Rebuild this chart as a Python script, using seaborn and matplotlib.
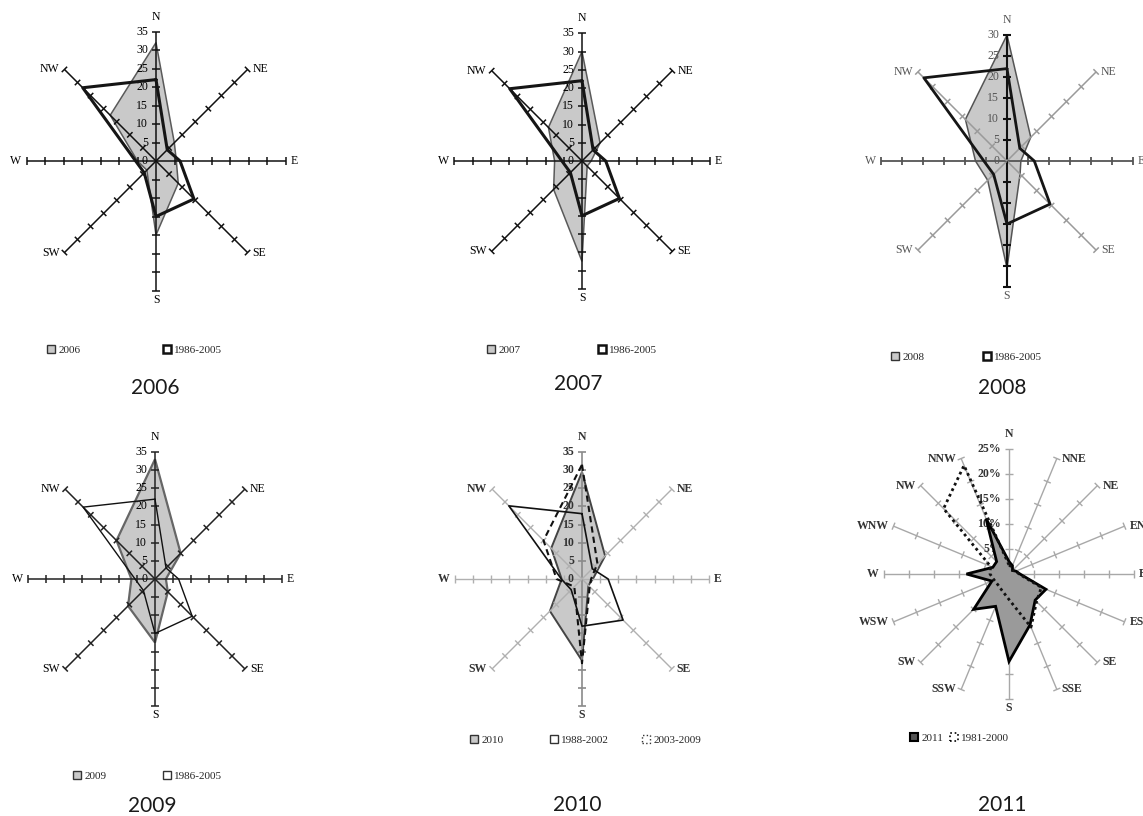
import numpy as np
import matplotlib.pyplot as plt
import seaborn as sns
from matplotlib.patches import Patch
from matplotlib.collections import LineCollection

# wind directions
dirs8 = ['N', 'NE', 'E', 'SE', 'S', 'SW', 'W', 'NW']
dirs16 = ['N', 'NNE', 'NE', 'ENE', 'E', 'ESE', 'SE', 'SSE',
          'S', 'SSW', 'SW', 'WSW', 'W', 'WNW', 'NW', 'NNW']

freq_2006 = [32, 7, 5.5, 8.5, 20, 3.5, 5, 17.5]
freq_2007 = [30, 7, 2.5, 2, 27.5, 11, 7.5, 13]
freq_2008 = [30, 8, 3.3, 4.4, 25.5, 6.5, 7.5, 14]
freq_2009 = [33, 10, 3, 5, 17.5, 10.5, 6.5, 15]
freq_2010 = [29.5, 9, 3, 2.5, 22.5, 12.5, 5.6, 12]
freq_1986_2005 = [22, 4.3, 6.5, 14.5, 15, 4.5, 5.5, 28]
freq_1988_2002 = [18, 4, 7.2, 16, 13, 4.2, 5.7, 28.5]
freq_2003_2009 = [31.5, 6, 2.5, 3, 23.2, 3, 7, 15]
freq_2011 = [2.5, 1.8, 1, 1.5, 2.2, 8, 7.4, 11, 17.5, 7, 10, 3.7, 8.5, 3.5, 3.5, 12]
freq_1981_2000 = [1.8, 1.5, 1, 1.5, 2, 7, 7.8, 11.5, 5.1, 3.6, 3.1, 3.2, 3.8, 4, 18.5, 23.5]

captions = ['2006', '2007', '2008', '2009', '2010', '2011']

sns.set_theme(style="white")
plt.rcParams['font.family'] = ['Liberation Serif', 'DejaVu Serif']

W, H = 1143, 816
fig = plt.figure(figsize=(W / 100, H / 100), dpi=100)


def compass(n):
    th = np.deg2rad(np.arange(n) * 360.0 / n)
    return np.sin(th), np.cos(th)


def panel_axes(cx, cy, scale, half=178):
    ax = fig.add_axes([(cx - half) / W, 1 - (cy + half) / H, 2 * half / W, 2 * half / H])
    ax.set_axis_off()
    ax.lim = half / scale
    return ax


def draw_rose(ax, dirs, rmax, step, scale, spoke_style, label_color='black',
              weight='normal', fmt='{:d}', tick_size=8.5, lab_size=8.5):
    n = len(dirs)
    ux, uy = compass(n)
    ticks = np.arange(step, rmax + step / 2, step)
    h = 3.8 / scale
    for i, d in enumerate(dirs):
        col, lw = spoke_style(i)
        ax.plot([0, rmax * ux[i]], [0, rmax * uy[i]], color=col, lw=lw, zorder=2,
                solid_capstyle='butt')
        segs = [[(t * ux[i] - h * uy[i], t * uy[i] + h * ux[i]),
                 (t * ux[i] + h * uy[i], t * uy[i] - h * ux[i])] for t in ticks]
        ax.add_collection(LineCollection(segs, colors=col, lw=lw, zorder=2))
        if abs(ux[i]) < 0.1:
            if uy[i] > 0:
                ax.text(0, rmax + 9 / scale, d, ha='center', va='bottom', fontsize=lab_size,
                        color=label_color, fontweight=weight)
            else:
                ax.text(0, -rmax - 3 / scale, d, ha='center', va='top', fontsize=lab_size,
                        color=label_color, fontweight=weight)
        else:
            ax.text(rmax * ux[i] + 5 / scale * np.sign(ux[i]), rmax * uy[i], d,
                    ha='left' if ux[i] > 0 else 'right', va='center', fontsize=lab_size,
                    color=label_color, fontweight=weight)
    for t in np.r_[0, ticks]:
        ax.text(-8 / scale, t, fmt.format(int(t)), ha='right', va='center',
                fontsize=tick_size, color=label_color, fontweight=weight)


def closed(vals):
    ux, uy = compass(len(vals))
    v = np.asarray(vals, float)
    return np.r_[v * ux, v[0] * ux[0]], np.r_[v * uy, v[0] * uy[0]]


def area(ax, vals, fc, ec, lw, zorder=1):
    x, y = closed(vals)
    ax.fill(x, y, facecolor=fc, edgecolor=ec, lw=lw, zorder=zorder)


def line(ax, vals, color, lw, ls='-', zorder=4):
    x, y = closed(vals)
    sns.lineplot(x=x, y=y, sort=False, estimator=None, ax=ax, color=color,
                 lw=lw, linestyle=ls, zorder=zorder)


def finish(ax):
    ax.set_xlim(-ax.lim, ax.lim)
    ax.set_ylim(-ax.lim, ax.lim)
    ax.set_aspect('equal')
    ax.set_axis_off()


def key(x, y, label, fc, ec, lw=1.0, ls='-'):
    fig.legend(handles=[Patch(facecolor=fc, edgecolor=ec, lw=lw, linestyle=ls)],
               labels=[label], loc='center left', bbox_to_anchor=(x / W, 1 - y / H),
               frameon=False, fontsize=8, handlelength=0.7, handleheight=0.7,
               handletextpad=0.3, borderpad=0, borderaxespad=0)


def caption(x, y, text):
    fig.text(x / W, 1 - y / H, text, ha='center', va='center', fontsize=15,
             family=['Lato', 'DejaVu Sans'], color='#1a1a1a')


black_spokes = lambda i: ('#111', 1.1)
GRAY = '#c9c9c9'

# 2006
ax = panel_axes(156, 161, 3.70)
area(ax, freq_2006, GRAY, '#5a5a5a', 1.1)
draw_rose(ax, dirs8, 35, 5, 3.70, black_spokes)
line(ax, freq_1986_2005, '#151515', 2.2)
finish(ax)

# 2007
ax = panel_axes(582, 161, 3.65)
area(ax, freq_2007, GRAY, '#5a5a5a', 1.1)
draw_rose(ax, dirs8, 35, 5, 3.65, black_spokes)
line(ax, freq_1986_2005, '#151515', 2.2)
finish(ax)

# 2008
ax = panel_axes(1007, 161, 4.20)
area(ax, freq_2008, GRAY, '#555', 1.1)
draw_rose(ax, dirs8, 30, 5, 4.20,
          lambda i: ('#111', 1.5) if i in (0, 4) else (('#555', 1.3) if i in (2, 6) else ('#9a9a9a', 1.1)),
          label_color='#555')
line(ax, freq_1986_2005, '#151515', 2.0)
finish(ax)

# 2009
ax = panel_axes(155, 579, 3.63)
area(ax, freq_2009, GRAY, '#666', 1.6)
draw_rose(ax, dirs8, 35, 5, 3.63, lambda i: ('#222', 1.1))
line(ax, freq_1986_2005, '#111', 1.0)
finish(ax)

# 2010
ax = panel_axes(582, 579, 3.63)
area(ax, freq_2010, GRAY, '#444', 1.4)
draw_rose(ax, dirs8, 35, 5, 3.63,
          lambda i: ('#8a8a8a', 1.2) if i in (0, 4) else ('#b0b0b0', 1.0),
          label_color='#333', weight='bold')
line(ax, freq_1988_2002, '#111', 1.2)
line(ax, freq_2003_2009, '#111', 1.5, ls=(0, (3, 2)))
finish(ax)

# 2011
ax = panel_axes(1009, 574, 5.0)
draw_rose(ax, dirs16, 25, 5, 5.0, lambda i: ('#a8a8a8', 1.0),
          label_color='#333', weight='bold', fmt='{:d}%', tick_size=8.5)
area(ax, freq_2011, '#9a9a9a', '#000', 2.0, zorder=3)
line(ax, freq_1981_2000, '#111', 2.0, ls=(0, (1, 1.2)))
finish(ax)

# keys
key(47, 350, '2006', GRAY, '#333')
key(163, 350, '1986-2005', 'white', '#111', lw=1.8)
key(487, 350, '2007', GRAY, '#333')
key(598, 350, '1986-2005', 'white', '#111', lw=1.8)
key(891, 357, '2008', GRAY, '#333')
key(983, 357, '1986-2005', 'white', '#111', lw=1.8)
key(73, 776, '2009', GRAY, '#333')
key(163, 776, '1986-2005', 'white', '#333', lw=1.0)
key(470, 740, '2010', GRAY, '#333')
key(550, 740, '1988-2002', 'white', '#333', lw=1.0)
key(642, 740, '2003-2009', 'white', '#333', lw=1.0, ls=':')
key(910, 738, '2011', '#555', '#000', lw=1.5)
key(950, 738, '1981-2000', 'white', '#000', lw=1.2, ls=':')

for (x, y), t in zip([(155, 388), (578, 384), (1002, 388),
                      (152, 806), (577, 805), (1002, 805)], captions):
    caption(x, y, t)

fig.savefig('out.png', dpi=100, facecolor='white')
